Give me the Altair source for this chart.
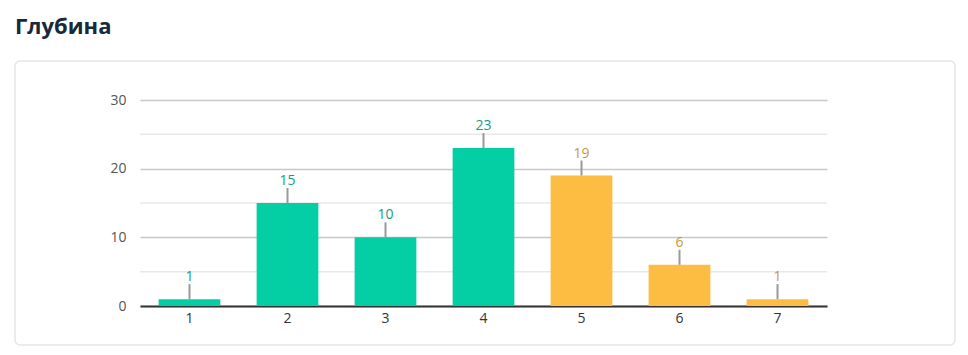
import altair as alt
import pandas as pd

categories = ["1", "2", "3", "4", "5", "6", "7"]
values = [1, 15, 10, 23, 19, 6, 1]
groups = ["g", "g", "g", "g", "y", "y", "y"]
minor_ticks = [5, 15, 25]
major_ticks = [0, 10, 20, 30]
title_text = "Глубина"

df = pd.DataFrame({"cat": categories, "v": values, "grp": groups})
minor_df = pd.DataFrame({"t": minor_ticks})
one = pd.DataFrame({"a": [0]})

FONT = "Open Sans"
W, H = 687, 206

xenc = alt.X("cat:N", sort=categories, title=None,
             scale=alt.Scale(paddingInner=0.37, paddingOuter=0.19),
             axis=alt.Axis(labelAngle=0, labelFontSize=14, labelColor="#333333", labelFont=FONT,
                           domainColor="#333333", domainWidth=2, ticks=False, labelPadding=5))
yscale = alt.Scale(domain=[0, 30], nice=False)
yaxis = alt.Axis(values=major_ticks, grid=True, gridColor="#c8c8c8", gridWidth=1.5,
                 domain=False, ticks=False, labelFontSize=14, labelColor="#555555",
                 labelFont=FONT, labelPadding=14)

card = alt.Chart(one).mark_rect(fill="transparent", stroke="#e6e6e6", strokeWidth=1.5, cornerRadius=5).encode(
    x=alt.value(-125), x2=alt.value(815), y=alt.value(-39), y2=alt.value(245))

title = alt.Chart(one).mark_text(text=title_text, align="left", baseline="alphabetic", fontSize=22,
                                 fontWeight="bold", font=FONT, color="#17293a").encode(
    x=alt.value(-125), y=alt.value(-66))

minor = alt.Chart(minor_df).mark_rule(color="#e8e8e8", strokeWidth=1.5).encode(
    y=alt.Y("t:Q", scale=yscale, title=None, axis=yaxis))

bars = alt.Chart(df).mark_bar().encode(
    x=xenc,
    y=alt.Y("v:Q", scale=yscale, title=None, axis=yaxis),
    color=alt.Color("grp:N", scale=alt.Scale(domain=["g", "y"], range=["#03cea4", "#fdbc42"]), legend=None),
)

connectors = alt.Chart(df).mark_rule(color="#999999", strokeWidth=2, y2Offset=-15).encode(
    x=alt.X("cat:N", sort=categories), y=alt.Y("v:Q", scale=yscale), y2="v:Q")

labels = alt.Chart(df).mark_text(dy=-18, baseline="alphabetic", fontSize=14, font=FONT).encode(
    x=alt.X("cat:N", sort=categories), y=alt.Y("v:Q", scale=yscale), text="v:Q",
    color=alt.Color("grp:N", scale=alt.Scale(domain=["g", "y"], range=["#189c7e", "#c8963a"]), legend=None),
)

chart = alt.layer(card, title, minor, bars, connectors, labels).resolve_scale(color="independent").properties(
    width=W, height=H,
    background="white",
    autosize=alt.AutoSizeParams(type="none"),
    padding={"left": 132, "top": 92, "right": 133, "bottom": 41},
).configure_view(strokeWidth=0, stroke="transparent")

chart.save("out.html", embed_options={"renderer": "svg", "actions": False})
